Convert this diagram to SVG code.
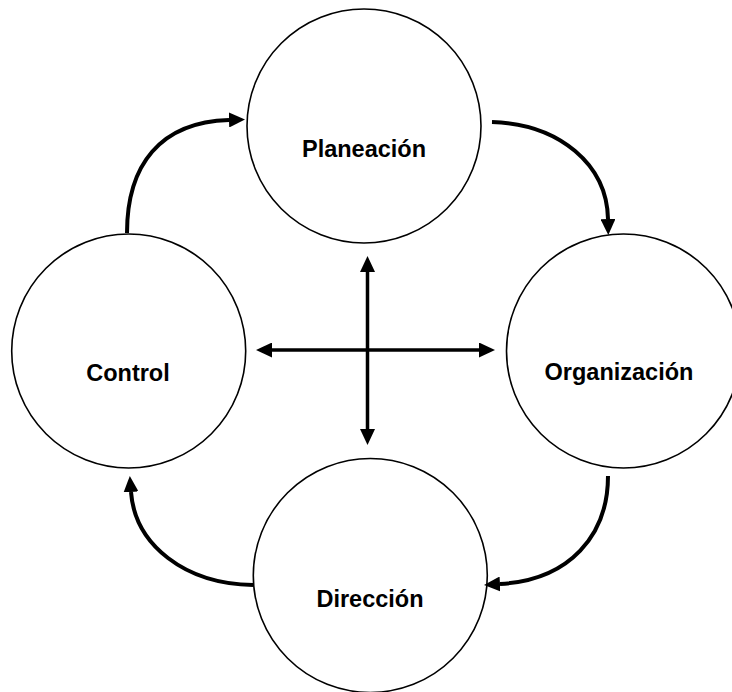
<svg xmlns="http://www.w3.org/2000/svg" width="732" height="692" viewBox="0 0 732 692">
<style>
.node circle{fill:#fff;stroke:#000;stroke-width:1.6}
.node text{font-family:"Liberation Sans",Arial,sans-serif;font-weight:bold;font-size:23.5px;text-anchor:middle;fill:#000}
.curve{fill:none;stroke:#000;stroke-width:4;marker-end:url(#ah)}
.cross{fill:none;stroke:#000;stroke-width:3.5;marker-start:url(#ahs);marker-end:url(#ah)}
</style>
<defs>
<marker id="ah" viewBox="0 0 16 15" refX="0" refY="7.5" markerWidth="16" markerHeight="15" markerUnits="userSpaceOnUse" orient="auto">
<path d="M0,0 L16,7.5 L0,15 z" fill="#000"/>
</marker>
<marker id="ahs" viewBox="0 0 16 15" refX="0" refY="7.5" markerWidth="16" markerHeight="15" markerUnits="userSpaceOnUse" orient="auto-start-reverse">
<path d="M0,0 L16,7.5 L0,15 z" fill="#000"/>
</marker>
</defs>
<rect width="732" height="692" fill="#fff"/>
<g id="planeacion" class="node">
<circle cx="364" cy="126" r="117"/>
<text x="364" y="157">Planeación</text>
</g>
<g id="control" class="node">
<circle cx="128.7" cy="351" r="117"/>
<text x="128" y="381">Control</text>
</g>
<g id="organizacion" class="node">
<circle cx="623.5" cy="351" r="117"/>
<text x="619" y="380">Organización</text>
</g>
<g id="direccion" class="node">
<circle cx="370.3" cy="575.5" r="117"/>
<text x="370" y="607">Dirección</text>
</g>
<g id="connectors">
<path class="curve" d="M127,233 C127,165 160,122 229,120"/>
<path class="curve" d="M492,122 C560,124 607,165 608,219"/>
<path class="curve" d="M608,476 C608,535 570,580 500,584"/>
<path class="curve" d="M253,585 C185,584 135,545 131,492"/>
<path class="cross" d="M272,350 L479,350"/>
<path class="cross" d="M367.5,272 L367.5,429"/>
</g>
</svg>
